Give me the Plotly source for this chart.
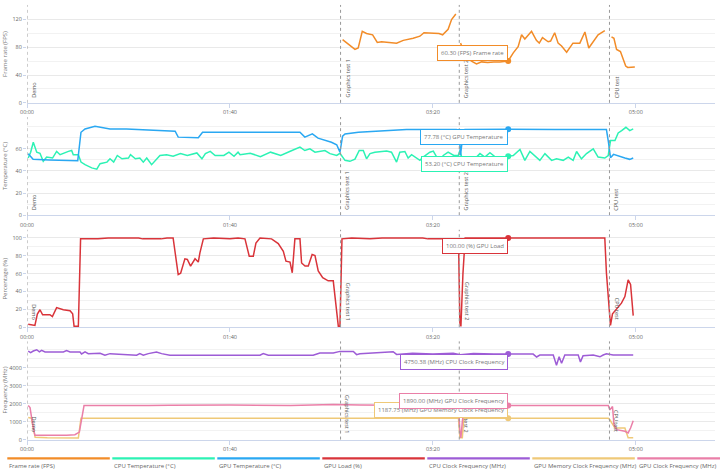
import plotly.graph_objects as go

# ---------------- data ----------------
series_names = ["Frame rate (FPS)", "CPU Temperature (°C)", "GPU Temperature (°C)", "GPU Load (%)",
                "CPU Clock Frequency (MHz)", "GPU Memory Clock Frequency (MHz)", "GPU Clock Frequency (MHz)"]
series_colors = ["#f28c28", "#2cf2b4", "#2aa8f2", "#d9343a", "#9d5cd6", "#efc978", "#ea7fa8"]

tick_seconds = [0, 100, 200, 300]
tick_labels = ["00:00", "01:40", "03:20", "05:00"]

test_times = [0, 154.5, 213, 287]
test_names = ["Demo", "Graphics test 1", "Graphics test 2", "CPU test"]

# (time in s, value) pairs; None = gap
fps = [(155.5, 91), (158.3, 85), (161.6, 77), (163.2, 79), (165.2, 103), (167.3, 100), (170.3, 98),
       (172.6, 87), (174.7, 88), (182.1, 86), (185.4, 90), (190.3, 93), (193.6, 96), (195.6, 101),
       (200.2, 100), (203, 100), (204.8, 98), (207.5, 106), (209.2, 120), (211.3, 128), (212.3, None),
       (213.6, 86), (215, 77), (216.6, 66), (219, 60), (221.5, 56), (224, 59), (227, 58), (230, 59),
       (233, 59), (237.1, 60.3), (239.6, 72), (242, 81), (243.7, 98), (245.3, 92), (248.6, 103),
       (251, 90), (252.4, 86), (254, 94), (256.8, 88), (258, 89), (260, 101), (261.7, 86), (263.4, 82),
       (265.9, 73), (269, 86), (272.4, 86), (274.9, 102), (276.8, 79), (279, 89), (281.4, 98),
       (284.7, 104), (286, None), (288, 95), (289.2, 93), (290.5, 77), (292.4, 74), (295, 53),
       (296, 51), (299.5, 51.5)]

cpu_temp = [(0.6, 51.7), (1.8, 57), (3.1, 66), (4.8, 57), (6.4, 56), (8, 48.7), (9.7, 52.6), (12.6, 51.7),
            (14.6, 57.7), (16.3, 54.7), (20.4, 57.7), (22, 58.5), (22.8, 54.7), (25.3, 54.7), (26.6, 48),
            (28.6, 45.7), (31.9, 42.8), (34.4, 41.6), (36, 46.6), (39.4, 48), (40.9, 51), (42.7, 48),
            (44.5, 54), (46.8, 51), (50, 51.7), (51, 54.7), (53.4, 51), (55.6, 51.7), (57.3, 48),
            (59, 51.7), (61.4, 45.7), (63.8, 51), (65.5, 54), (68.8, 54.7), (72, 53.3), (75.6, 55.7),
            (79, 54), (83.7, 56.3), (86.2, 51), (87.9, 55.7), (90.3, 57.7), (92.7, 54), (97, 54),
            (99.5, 57), (102, 53.3), (104, 57), (105, 54.7), (110, 56), (115, 53), (120, 57), (125, 54),
            (130, 58), (134.5, 61.6), (136.9, 58.5), (139.4, 60), (141.9, 57), (146.8, 58.5), (149.3, 55.7),
            (152.6, 54), (154.2, 56), (156.7, 49.6), (159.1, 48.7), (161.6, 50.7), (163.7, 58.6),
            (165.7, 58.6), (167.3, 51), (169, 55.7), (171.4, 57), (177.2, 58), (179.6, 57), (182.1, 48),
            (183.7, 57), (186.2, 57.6), (187.8, 51.7), (189.5, 54.7), (193.6, 49.6), (195.2, 52.6),
            (198.5, 57), (200.2, 58), (203.1, 48.7), (205.1, 54), (207.5, 57), (210.3, 54), (212.5, 54),
            (213.3, 58.6), (214.9, 48), (219.9, 49.6), (223.2, 55.7), (225.6, 52.6), (228.1, 56.5),
            (231.4, 51.7), (237.1, 53.2), (239.6, 54), (242.9, 59.5), (245.3, 49.6), (247.8, 57.6),
            (250.2, 54), (252.7, 49.6), (255.2, 55.7), (258.5, 49.6), (260.9, 51), (264.2, 49.6),
            (266.7, 52.6), (269.1, 49.6), (270.8, 57.6), (273.2, 51), (275.7, 55.7), (279, 60),
            (281.4, 52.6), (284.7, 51.7), (286.4, 54), (287.5, 67.5), (289.7, 67.5), (291.3, 74.4),
            (293, 76.5), (295.1, 79.5), (297, 76.5), (298.7, 78)]

gpu_temp = [(0.6, 55.6), (3, 50.5), (11, 50), (25, 49.3), (26.6, 75), (28.6, 78), (33.5, 80.4), (40.9, 78),
            (49, 78), (57.3, 77.1), (63.8, 76.5), (73, 76), (74.5, 70.6), (84.4, 70), (86.5, 75),
            (93.4, 75), (105, 75.6), (115, 75.5), (125, 75), (134.5, 75), (136.9, 70.6), (140.6, 73.5),
            (143.4, 69.7), (150, 66), (152.6, 63.7), (154.2, 57), (155.5, 71.5), (156.7, 73.5),
            (163.3, 75), (175.6, 76.5), (187, 77.4), (211.6, 77.4), (212.9, 77), (213.6, 54),
            (214.6, 70), (215.8, 77.4), (237.1, 77.78), (260, 77.4), (285.5, 77.4), (286.5, 66),
            (287.5, 52), (289, 55), (292, 53), (294.6, 51.7), (297, 50.5), (298.7, 51.7)]

gpu_load = [(0.6, 3.3), (3.9, 2), (5.1, 14.8), (6.4, 19.6), (7.7, 14), (11.3, 14), (12.5, 12), (14.6, 22),
            (17.9, 19.6), (21.2, 18.5), (22.5, 15), (23.2, 1), (25.3, 1), (26.4, 99), (35, 99), (40, 100),
            (55, 100), (57, 99), (66, 99), (69, 100), (72, 100), (74.5, 59), (75.7, 60.6), (77.8, 76.7),
            (79, 76), (80.6, 68.5), (82.8, 76.7), (84.4, 73), (85.2, 83.3), (86.9, 99), (92, 100),
            (100, 99), (104, 100), (107.4, 99), (109.5, 79.6), (111.5, 79.6), (112.8, 94.4), (114.8, 100),
            (120.5, 99), (123.8, 93.7), (126.3, 85), (127.6, 74), (129.6, 73), (130.7, 61), (132, 99),
            (134.5, 99), (135.3, 72), (137, 68.5), (138.6, 68.5), (140.5, 81.5), (141.9, 80.4),
            (143.5, 63), (145.7, 55.6), (148.4, 52), (150.9, 52), (151.8, 35), (153.4, 1), (154.2, 1),
            (155.2, 99), (160, 100), (169, 99), (175, 100), (195, 100), (197.5, 99), (212.6, 99),
            (213.3, 5), (213.8, 1), (214.8, 60), (215.9, 100), (237.1, 100), (284.7, 100), (285.5, 61),
            (287.5, 2), (288.5, 15), (289.7, 18.5), (291.3, 22), (292.9, 27), (294.6, 34.4), (296.2, 53),
            (297.4, 48), (298.7, 13)]

cpu_clock = [(0.6, 4920), (1.8, 4830), (3.1, 4920), (4.8, 4990), (6.1, 4870), (7.2, 4960), (8.9, 4870),
             (17.9, 4870), (19.5, 4940), (21.2, 4870), (26.1, 4870), (26.9, 4755), (28.6, 4870),
             (30.2, 4775), (36, 4795), (38.4, 4683), (40.9, 4775), (45.8, 4740), (49.9, 4683), (54, 4683),
             (55.6, 4775), (57.3, 4683), (59.8, 4775), (63.8, 4870), (66.3, 4775), (70.4, 4683),
             (114.8, 4683), (116.4, 4775), (118.9, 4683), (141, 4683), (144.3, 4810), (150.9, 4810),
             (154.2, 4900), (160.8, 4900), (162.4, 4720), (164, 4771), (172.3, 4825), (180.4, 4880),
             (182.1, 4730), (190, 4790), (200, 4760), (210, 4800), (213.5, 4720), (220, 4780),
             (230, 4760), (237.1, 4750.38), (244, 4760), (249.4, 4750), (251.1, 4590), (252.7, 4700),
             (259.3, 4700), (260.9, 4130), (262.2, 4600), (263.4, 4240), (265, 4700), (271.6, 4700),
             (272.7, 4315), (274, 4660), (279, 4700), (282.3, 4600), (283.9, 4700), (285.5, 4770),
             (288.8, 4700), (298.7, 4700)]

gpu_mem_clock = [(0.6, 1230), (2.2, 1190), (4, 125), (10, 100), (25.3, 90), (26.6, 1187.75),
                 (212.6, 1187.75), (213.3, 100), (214.5, 100), (215.2, 1187.75), (237.1, 1187.75),
                 (286.4, 1187.75), (287.2, 1100), (289.7, 640), (294.6, 640), (295.4, 360), (296.2, 100),
                 (298.7, 100)]

gpu_clock = [(0.6, 1890), (1.5, 1780), (2.8, 826), (3.9, 237), (19.5, 237), (23.6, 270), (25.8, 420),
             (26.9, 1050), (28.1, 1890), (60, 1890), (70, 1910), (100, 1920), (130, 1890), (150.9, 1950),
             (164, 1920), (200, 1900), (212.6, 1890), (213.3, 460), (213.8, 100), (214.5, 1000),
             (215.5, 1890), (237.1, 1890), (286.4, 1890), (287.2, 1650), (288.5, 1840), (289.2, 830),
             (290.5, 550), (294.6, 460), (296.2, 370), (297.4, 640), (298.7, 1045)]

hover_time = 237.1
hover_values = [60.30, 53.20, 77.78, 100.00, 4750.38, 1187.75, 1890.00]
hover_units = ["FPS", "°C", "°C", "%", "MHz", "MHz", "MHz"]
hover_labels = ["Frame rate", "CPU Temperature", "GPU Temperature", "GPU Load", "CPU Clock Frequency",
                "GPU Memory Clock Frequency", "GPU Clock Frequency"]

panel_titles = ["Frame rate (FPS)", "Temperature (°C)", "Percentage (%)", "Frequency (MHz)"]
panel_ticks = [[0, 40, 80, 120], [0, 20, 40, 60], [0, 20, 40, 60, 80, 100], [0, 1000, 2000, 3000, 4000]]
panel_minor = [20, 10, 10, 500]
panel_ranges = [[0, 141], [0, 88.8], [0, 109.2], [0, 5455]]
panel_domains = [[0.7821, 0.9895], [0.5441, 0.7521], [0.3067, 0.5132], [0.0687, 0.2767]]

series_data = [fps, cpu_temp, gpu_temp, gpu_load, cpu_clock, gpu_mem_clock, gpu_clock]
series_panel = [1, 2, 2, 3, 4, 4, 4]

# ---------------- figure ----------------
W, H, L, R = 720, 476, 27, 5
PW = W - L - R
FONT = "Open Sans"
fig = go.Figure()

for i, data in enumerate(series_data):
    p = series_panel[i]
    ax = "" if p == 1 else str(p)
    fig.add_trace(go.Scatter(x=[d[0] for d in data], y=[d[1] for d in data], mode="lines",
                             line=dict(color=series_colors[i], width=1.5), connectgaps=False,
                             xaxis="x" + ax, yaxis="y" + ax, showlegend=False, hoverinfo="skip"))

for i in range(len(series_data)):
    p = series_panel[i]
    ax = "" if p == 1 else str(p)
    fig.add_trace(go.Scatter(x=[hover_time], y=[hover_values[i]], mode="markers",
                             marker=dict(color=series_colors[i], size=6),
                             xaxis="x" + ax, yaxis="y" + ax, showlegend=False, hoverinfo="skip"))

layout = dict(width=W, height=H, margin=dict(l=L, r=R, t=0, b=0), plot_bgcolor="white",
              paper_bgcolor="white", font=dict(family=FONT, size=6, color="#666"), showlegend=False)

for p in range(4):
    ax = "" if p == 0 else str(p + 1)
    layout["xaxis" + ax] = dict(domain=[0, 1], range=[0, 339], anchor="y" + ax, showgrid=False,
                                zeroline=False, showline=True, linecolor="#ccd6eb", linewidth=1,
                                tickmode="array", tickvals=tick_seconds, ticktext=tick_labels,
                                ticks="outside", ticklen=4, tickcolor="#ccd6eb",
                                tickfont=dict(size=5.5, color="#666"))
    layout["yaxis" + ax] = dict(domain=panel_domains[p], range=panel_ranges[p], anchor="x" + ax,
                                showgrid=True, gridcolor="#e9e9e9", zeroline=False, showline=False,
                                tickmode="array", tickvals=panel_ticks[p], ticks="outside", ticklen=3,
                                tickcolor="#ccd6eb", tickfont=dict(size=5.5, color="#666"),
                                minor=dict(dtick=panel_minor[p], tick0=0, showgrid=True,
                                           gridcolor="#f2f2f2", ticklen=0))
fig.update_layout(**layout)

shapes = []
annotations = []
for p in range(4):
    ax = "" if p == 0 else str(p + 1)
    for t, name in zip(test_times, test_names):
        shapes.append(dict(type="line", xref="x" + ax, yref="y" + ax + " domain", x0=t, x1=t, y0=0, y1=1,
                           line=dict(color="#999", width=1, dash="dot")))
        annotations.append(dict(xref="x" + ax, yref="y" + ax + " domain", x=t, y=0, text=name,
                                showarrow=False, textangle=-90 if p < 2 else 90, xanchor="left",
                                yanchor="bottom", xshift=1, yshift=3 if p < 2 else 5,
                                font=dict(size=5.5, color="#555")))
    d = panel_domains[p]
    annotations.append(dict(xref="paper", yref="paper", x=(5 - L) / PW, y=(d[0] + d[1]) / 2,
                            text=panel_titles[p], textangle=-90, showarrow=False, xanchor="center",
                            yanchor="middle", font=dict(size=6, color="#777")))

# tooltip boxes (order: GPU memory drawn before GPU clock so the latter is on top)
tip_anchor = ["bottom", "top", "top", "top", "top", "bottom", "bottom"]
tip_shift = [0, 0, 0, 0, 0, 0, -3]
for i in [0, 2, 1, 3, 4, 5, 6]:
    p = series_panel[i]
    ax = "" if p == 1 else str(p)
    annotations.append(dict(xref="x" + ax, yref="y" + ax, x=hover_time, y=hover_values[i],
                            text="%.2f (%s) %s" % (hover_values[i], hover_units[i], hover_labels[i]),
                            showarrow=False, xanchor="right", yanchor=tip_anchor[i], yshift=tip_shift[i],
                            bgcolor="white", bordercolor=series_colors[i], borderwidth=1, borderpad=3,
                            font=dict(size=6, color="#777")))

# legend (bars + labels)
for i, name in enumerate(series_names):
    left = 7.3 + 105 * i
    shapes.append(dict(type="rect", xref="paper", yref="paper", x0=(left - L) / PW,
                       x1=(left + 102.5 - L) / PW, y0=(H - 463.5) / H, y1=(H - 461) / H,
                       fillcolor=series_colors[i], line=dict(width=0)))
    annotations.append(dict(xref="paper", yref="paper", x=(left - L) / PW, y=(H - 469.5) / H, text=name,
                            showarrow=False, xanchor="left", yanchor="middle",
                            font=dict(size=6, color="#666")))

fig.update_layout(shapes=shapes, annotations=annotations)
fig.write_html("out.html")
